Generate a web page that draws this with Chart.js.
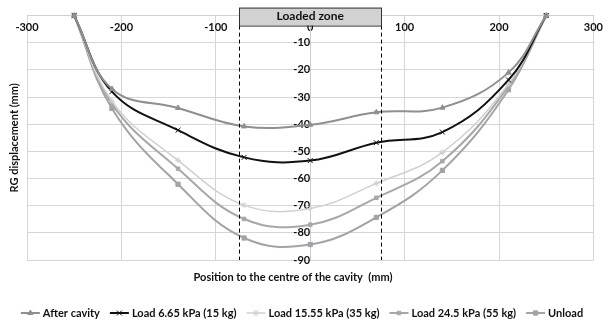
<!DOCTYPE html>
<html>
<head>
<meta charset="utf-8">
<script src="https://cdn.jsdelivr.net/npm/chart.js@4/dist/chart.umd.min.js"></script>
<style>
  html, body { margin: 0; padding: 0; background: #fff; }
  #wrap { width: 608px; height: 320px; position: relative; }
</style>
</head>
<body>
<div id="wrap"><canvas id="rgChart"></canvas></div>
<script>
// positions along the geogrid (mm from cavity centre)
const positions = [-250, -210, -140, -70, 0, 70, 140, 210, 250];
// RG displacement (mm) for each stage
const afterCavity = [0, -27, -34, -40.8, -40.2, -35.6, -33.9, -21, 0];
const load15kg = [0, -28, -42.2, -52.2, -53.4, -46.8, -42.9, -23.7, 0];
const load35kg = [0, -31.5, -53.3, -69.8, -71, -61.8, -50.4, -25.2, 0];
const load55kg = [0, -32.5, -56.4, -74.9, -77, -67.1, -53.6, -26, 0];
const unload = [0, -34.2, -62.1, -81.9, -84.3, -74.3, -57, -27.3, 0];

const seriesNames = ['After cavity', 'Load 6.65 kPa (15 kg)', 'Load 15.55 kPa (35 kg)', 'Load 24.5 kPa (55 kg)', 'Unload'];
const xTicks = [-300, -200, -100, 0, 100, 200, 300];
const yTicks = [0, -10, -20, -30, -40, -50, -60, -70, -80, -90];
const loadedZone = [-75, 75];

const FONT = "'Liberation Sans Narrow', Lato, sans-serif";

function toPoints(vals) {
    return positions.map((x, i) => ({ x: x, y: vals[i] }));
}

function makeSet(label, vals, color, style, radius, width) {
    return {
        label: label,
        data: toPoints(vals),
        borderColor: color,
        backgroundColor: color,
        pointBorderColor: color,
        pointBackgroundColor: color,
        pointStyle: style,
        pointRadius: radius,
        pointBorderWidth: 1,
        borderWidth: width,
        tension: 0.4,
        clip: false
    };
}

// cadre "Loaded zone", lignes pointillées, titres des axes et légende
const extras = {
    id: 'extras',
    afterDraw(chart) {
        const ctx = chart.ctx;
        const xs = chart.scales.x;
        const area = chart.chartArea;
        const x1 = xs.getPixelForValue(loadedZone[0]);
        const x2 = xs.getPixelForValue(loadedZone[1]);
        const boxTop = area.top - 8;
        const boxBottom = area.top + 10;

        ctx.save();
        // pointillés verticaux
        ctx.strokeStyle = '#000';
        ctx.lineWidth = 1;
        ctx.setLineDash([4, 3]);
        [x1, x2].forEach(px => {
            ctx.beginPath();
            ctx.moveTo(Math.round(px) + 0.5, boxBottom);
            ctx.lineTo(Math.round(px) + 0.5, area.bottom);
            ctx.stroke();
        });
        ctx.setLineDash([]);

        // cadre
        ctx.fillStyle = '#d2d2d2';
        ctx.fillRect(x1, boxTop, x2 - x1, boxBottom - boxTop);
        ctx.strokeStyle = '#333';
        ctx.strokeRect(Math.round(x1) + 0.5, boxTop + 0.5, Math.round(x2 - x1), boxBottom - boxTop);
        ctx.fillStyle = '#111';
        ctx.font = 'bold 12px ' + FONT;
        ctx.textAlign = 'center';
        ctx.textBaseline = 'middle';
        ctx.fillText('Loaded zone', (x1 + x2) / 2, (boxTop + boxBottom) / 2);

        // titres des axes
        ctx.font = 'bold 11px ' + FONT;
        ctx.fillText('Position to the centre of the cavity  (mm)', 293, area.bottom + 17);
        ctx.translate(14, (area.top + area.bottom) / 2);
        ctx.rotate(-Math.PI / 2);
        ctx.fillText('RG displacement (mm)', 0, 0);
        ctx.restore();

        // légende
        ctx.save();
        ctx.font = 'bold 11px ' + FONT;
        ctx.textBaseline = 'middle';
        ctx.textAlign = 'left';
        const sample = 19, gap = 3, spacing = 10;
        const sets = chart.data.datasets;
        let total = 0;
        sets.forEach((ds, i) => {
            total += sample + gap + ctx.measureText(ds.label).width + (i < sets.length - 1 ? spacing : 0);
        });
        let x = 302 - total / 2;
        const y = 313;
        sets.forEach(ds => {
            ctx.strokeStyle = ds.borderColor;
            ctx.lineWidth = ds.borderWidth;
            ctx.beginPath();
            ctx.moveTo(x, y);
            ctx.lineTo(x + sample, y);
            ctx.stroke();
            ctx.fillStyle = ds.pointBackgroundColor;
            ctx.lineWidth = 1;
            Chart.helpers.drawPoint(ctx, { pointStyle: ds.pointStyle, radius: ds.pointRadius, borderWidth: 1, rotation: 0 }, x + sample / 2, y);
            ctx.fillStyle = '#111';
            ctx.fillText(ds.label, x + sample + gap, y + 0.5);
            x += sample + gap + ctx.measureText(ds.label).width + spacing;
        });
        ctx.restore();
    }
};

const ctxChart = document.getElementById('rgChart').getContext('2d');
new Chart(ctxChart, {
    type: 'line',
    data: {
        datasets: [
            makeSet(seriesNames[0], afterCavity, '#8c918c', 'triangle', 3, 2),
            makeSet(seriesNames[1], load15kg, '#111111', 'crossRot', 3.5, 2),
            makeSet(seriesNames[2], load35kg, '#d0d0d0', 'star', 3, 1.5),
            makeSet(seriesNames[3], load55kg, '#a8a8a8', 'rect', 2.5, 2),
            makeSet(seriesNames[4], unload, '#a6a1a8', 'rect', 3, 2)
        ]
    },
    options: {
        responsive: true,
        maintainAspectRatio: false,
        animation: false,
        layout: { padding: { left: 27, right: 10, top: 10, bottom: 60 } },
        plugins: {
            legend: { display: false },
            tooltip: { enabled: false }
        },
        scales: {
            x: {
                type: 'linear',
                position: { y: 0 },
                min: xTicks[0],
                max: xTicks[xTicks.length - 1],
                afterBuildTicks: axis => { axis.ticks = xTicks.map(v => ({ value: v })); },
                grid: { color: '#d6d6d6', drawTicks: false },
                border: { color: '#d0d0d0' },
                ticks: {
                    padding: 5,
                    maxRotation: 0,
                    color: '#111',
                    font: { family: FONT, size: 11, weight: 'bold' }
                }
            },
            y: {
                type: 'linear',
                position: { x: 0 },
                min: yTicks[yTicks.length - 1],
                max: yTicks[0],
                afterBuildTicks: axis => { axis.ticks = yTicks.map(v => ({ value: v })); },
                grid: { color: '#d6d6d6', drawTicks: false },
                border: { color: '#cccccc' },
                ticks: {
                    padding: 9,
                    color: '#111',
                    font: { family: FONT, size: 11, weight: 'bold' },
                    callback: v => (v === 0 ? '' : v)
                }
            }
        }
    },
    plugins: [extras]
});
</script>
</body>
</html>
